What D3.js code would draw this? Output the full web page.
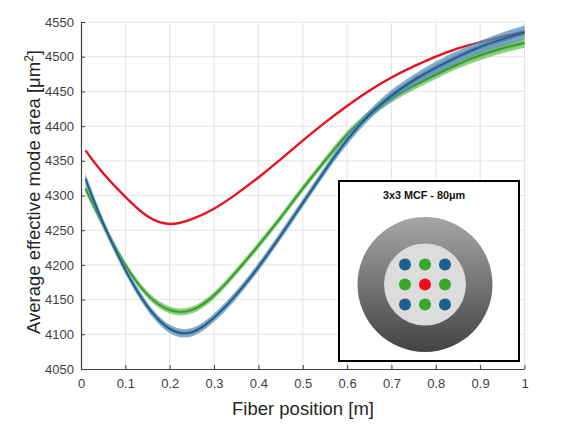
<!DOCTYPE html>
<html>
<head>
<meta charset="utf-8">
<script src="https://cdn.jsdelivr.net/npm/d3@7"></script>
<style>
  html, body { margin: 0; padding: 0; background: #fff; }
  svg { display: block; }
  text { font-family: "Liberation Sans", Arial, sans-serif; }
</style>
</head>
<body>
<div id="app"></div>
<script>
// fiber position [m]
const positions = [0.01, 0.05, 0.1, 0.15, 0.2, 0.25, 0.3, 0.35, 0.4, 0.45, 0.5, 0.55, 0.6, 0.65, 0.7, 0.75, 0.8, 0.85, 0.9, 0.95, 1.0]
// average effective mode area [um^2]
const centerCore = [4365, 4332, 4298, 4270, 4259, 4266, 4281, 4302, 4326, 4352, 4379, 4405, 4429, 4451, 4470, 4486, 4500, 4512, 4521, 4529, 4535]
const cornerCores = [4324, 4260, 4193, 4140, 4108, 4103, 4124, 4157, 4197, 4242, 4289, 4336, 4380, 4416, 4444, 4466, 4484, 4500, 4514, 4525, 4535]
const edgeCores = [4310, 4258, 4200, 4157, 4135, 4135, 4156, 4190, 4228, 4268, 4310, 4350, 4388, 4417, 4440, 4458, 4474, 4489, 4502, 4512, 4520]
// spread between the cores of one group (half width)
const cornerSpread = [8, 7, 6, 6, 6, 6, 6, 6, 6, 6, 6, 6, 7, 7, 8, 8, 9, 9, 9, 10, 10]
const edgeSpread = [6, 6, 5, 5, 5, 5, 5, 5, 5, 5, 5, 5, 5, 5, 6, 6, 6, 6, 7, 7, 7]
const xTicks = [0, 0.1, 0.2, 0.3, 0.4, 0.5, 0.6, 0.7, 0.8, 0.9, 1]
const yTicks = [4050, 4100, 4150, 4200, 4250, 4300, 4350, 4400, 4450, 4500, 4550]
// 3x3 core layout of the inset: c = corner, e = edge, m = middle
const coreLayout = [
  ['c', 'e', 'c'],
  ['e', 'm', 'e'],
  ['c', 'e', 'c'],
]

const W = 566, H = 438
const svg = d3.select('#app').append('svg')
  .attr('width', W)
  .attr('height', H)

const x = d3.scaleLinear().domain([0, 1]).range([81, 524.5])
const y = d3.scaleLinear().domain([4050, 4550]).range([369, 22])

// grid
const grid = svg.append('g')
grid.selectAll('.gx').data(xTicks.slice(1)).enter().append('line')
  .attr('x1', d => x(d)).attr('x2', d => x(d))
  .attr('y1', y(4050)).attr('y2', y(4550))
  .attr('stroke', '#e4e4e4').attr('stroke-width', 1)
grid.selectAll('.gy').data(yTicks.slice(1)).enter().append('line')
  .attr('x1', x(0)).attr('x2', x(1))
  .attr('y1', d => y(d)).attr('y2', d => y(d))
  .attr('stroke', '#e4e4e4').attr('stroke-width', 1)

const curve = d3.curveNatural
const line = d3.line().x(d => x(d[0])).y(d => y(d[1])).curve(curve)
const band = d3.area().x(d => x(d[0])).y0(d => y(d[1] - d[2])).y1(d => y(d[1] + d[2])).curve(curve)

function drawSeries(values, spread, fill, stroke, width) {
  const pts = positions.map((p, i) => [p, values[i], spread ? spread[i] : 0])
  if (spread) {
    svg.append('path').attr('d', band(pts))
      .attr('fill', fill).attr('fill-opacity', 0.75)
    svg.append('path').attr('d', band(pts.map(d => [d[0], d[1], d[2] * 0.45])))
      .attr('fill', stroke).attr('fill-opacity', 0.35)
  }
  svg.append('path').attr('d', line(pts))
    .attr('fill', 'none').attr('stroke', stroke).attr('stroke-width', width)
}
drawSeries(centerCore, null, null, '#e8101c', 2.4)
drawSeries(edgeCores, edgeSpread, '#6cc25c', '#2f9a26', 1.6)
drawSeries(cornerCores, cornerSpread, '#5b8fb8', '#1d5a88', 1.6)

// axes
const xAxis = d3.axisBottom(x).tickValues(xTicks).tickFormat(d3.format('~g'))
  .tickSizeInner(-4).tickSizeOuter(0).tickPadding(10)
const yAxis = d3.axisLeft(y).tickValues(yTicks).tickFormat(d3.format('d'))
  .tickSizeInner(-4).tickSizeOuter(0).tickPadding(7)
const gx = svg.append('g').attr('transform', `translate(0,${y(4050)})`).call(xAxis)
const gy = svg.append('g').attr('transform', `translate(${x(0)},0)`).call(yAxis)
;[gx, gy].forEach(g => {
  g.select('.domain').attr('stroke', '#404040').attr('stroke-width', 1.2)
  g.selectAll('.tick line').attr('stroke', '#404040')
  g.selectAll('.tick text').attr('fill', '#404040')
    .style('font-size', '13px').style('font-family', '"Liberation Sans", Arial, sans-serif')
})

// axis titles
svg.append('text')
  .attr('x', 303).attr('y', 415)
  .attr('text-anchor', 'middle')
  .attr('fill', '#262626').style('font-size', '18.5px')
  .text('Fiber position [m]')
const yl = svg.append('text')
  .attr('transform', 'translate(40,192) rotate(-90)')
  .attr('text-anchor', 'middle')
  .attr('fill', '#262626').style('font-size', '18.5px')
yl.append('tspan').text('Average effective mode area [μm')
yl.append('tspan').text('2').style('font-size', '12px').attr('dy', -7)
yl.append('tspan').text(']').attr('dy', 7)

// inset: cross section of the fiber
const inset = svg.append('g')
inset.append('rect')
  .attr('x', 339).attr('y', 181).attr('width', 180).attr('height', 180)
  .attr('fill', '#fff').attr('stroke', '#000').attr('stroke-width', 2)
inset.append('text')
  .attr('x', 424).attr('y', 199)
  .attr('text-anchor', 'middle')
  .style('font-size', '10.8px').style('font-weight', 'bold')
  .attr('fill', '#111')
  .text('3x3 MCF - 80μm')
const defs = svg.append('defs')
const grad = defs.append('linearGradient').attr('id', 'clad')
  .attr('x1', 0).attr('y1', 0).attr('x2', 0).attr('y2', 1)
grad.append('stop').attr('offset', '0%').attr('stop-color', '#a6a6a6')
grad.append('stop').attr('offset', '100%').attr('stop-color', '#434343')
const cx = 425, cy = 284.5
inset.append('circle').attr('cx', cx).attr('cy', cy).attr('r', 67.5).attr('fill', 'url(#clad)')
inset.append('circle').attr('cx', cx).attr('cy', cy).attr('r', 41).attr('fill', '#dcdcdc')
const coreColor = { c: '#1b5e91', e: '#36a82c', m: '#e8101c' }
const pitch = d3.scalePoint().domain([0, 1, 2]).range([-20, 20])
coreLayout.forEach((row, r) => {
  inset.selectAll(null).data(row).enter().append('circle')
    .attr('cx', (d, c) => cx + pitch(c))
    .attr('cy', cy + pitch(r))
    .attr('r', 6)
    .attr('fill', d => coreColor[d])
})
</script>
</body>
</html>
